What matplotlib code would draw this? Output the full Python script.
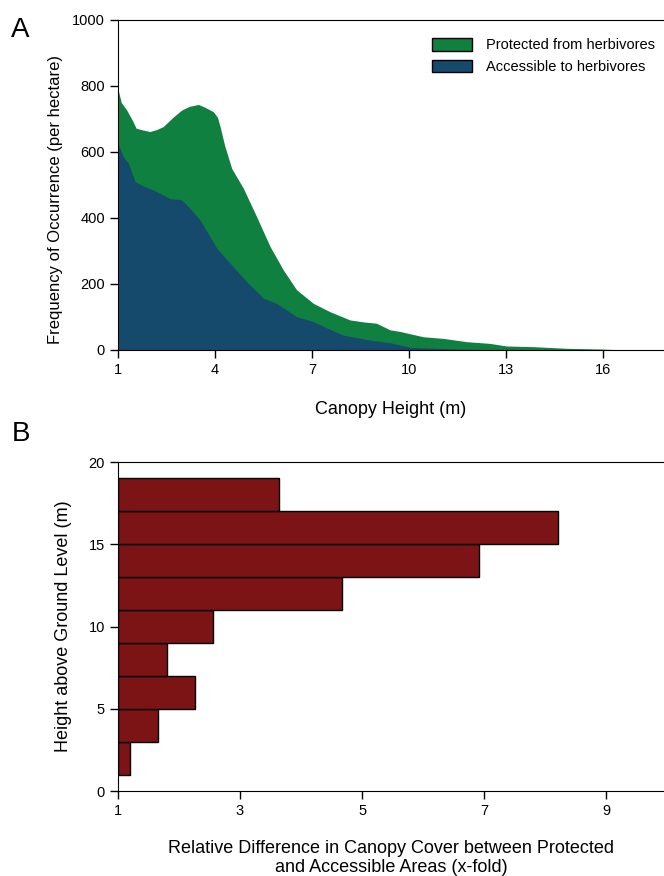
import matplotlib.pyplot as plt
from matplotlib.patches import Patch

# panel A: canopy height vs frequency of occurrence (per hectare)
prot_x = [1.0, 1.1, 1.27, 1.45, 1.56, 1.75, 1.99, 2.2, 2.4, 2.7, 2.97, 3.2, 3.49, 3.7,
          3.95, 4.08, 4.16, 4.3, 4.52, 4.88, 5.29, 5.71, 6.12, 6.53, 7.05, 7.56, 8.18,
          8.6, 9.0, 9.42, 9.73, 10.45, 11.07, 11.8, 12.5, 13.03, 13.85, 14.9, 15.9,
          16.5, 17.0, 18.0]
prot_y = [790, 750, 727, 695, 672, 667, 662, 668, 677, 705, 727, 738, 744, 735,
          722, 705, 677, 620, 550, 490, 404, 313, 242, 182, 141, 116, 91,
          85, 81, 61, 56, 40, 35, 25, 20, 12, 10, 5, 3,
          1, 0, 0]

acc_x = [1.0, 1.16, 1.32, 1.53, 1.78, 2.09, 2.61, 2.97, 3.23, 3.54, 3.85, 4.06, 4.47,
         4.98, 5.5, 5.91, 6.53, 7.05, 7.5, 7.98, 8.8, 9.42, 10.04, 11.4, 12.5, 18.0]
acc_y = [626, 586, 566, 510, 497, 485, 459, 455, 429, 394, 343, 308, 263,
         207, 157, 141, 101, 86, 65, 45, 30, 22, 8, 3, 1, 0]

# panel B: relative difference (x-fold) per 2 m height class
height_mid = [2, 4, 6, 8, 10, 12, 14, 16, 18]
rel_diff = [1.19, 1.66, 2.27, 1.80, 2.55, 4.68, 6.91, 8.22, 3.64]

green = '#0f8040'
blue = '#164a6d'
red = '#7c1416'

plt.rcParams['font.family'] = 'Liberation Sans'
plt.rcParams['font.size'] = 10.5

fig = plt.figure(figsize=(6.64, 8.76), dpi=100)

##############################
# Panel A
##############################
ax1 = fig.add_axes([0.1777, 0.6005, 0.8223, 0.3767])
ax1.fill_between(prot_x, 0, prot_y, color=green, lw=0)
ax1.fill_between(acc_x, 0, acc_y, color=blue, lw=0)
ax1.set_xlim(1, 17.9)
ax1.set_ylim(0, 1000)
ax1.set_xticks([1, 4, 7, 10, 13, 16])
ax1.set_yticks([0, 200, 400, 600, 800, 1000])
ax1.set_xlabel('Canopy Height (m)', fontsize=13, labelpad=17)
ax1.set_ylabel('Frequency of Occurrence (per hectare)', fontsize=12)
ax1.yaxis.set_label_coords(-0.1, 0.455)
ax1.spines['right'].set_visible(False)
ax1.tick_params(direction='out', length=5.5, width=1, pad=4)
ax1.legend(handles=[Patch(facecolor=green, edgecolor='black', lw=1, label='Protected from herbivores'),
                    Patch(facecolor=blue, edgecolor='black', lw=1, label='Accessible to herbivores')],
           loc='upper left', bbox_to_anchor=(0.64, 0.965), bbox_transform=fig.transFigure,
           frameon=False, fontsize=10.5, handlelength=2.7, handleheight=0.95,
           handletextpad=1.0, labelspacing=0.5, borderpad=0)
fig.text(0.017, 0.966, 'A', fontsize=20, va='center')

##############################
# Panel B
##############################
ax2 = fig.add_axes([0.1777, 0.097, 0.8223, 0.3756])
ax2.barh(height_mid, [v - 1 for v in rel_diff], height=2, left=1,
         color=red, edgecolor='black', lw=1)
ax2.set_xlim(1, 9.95)
ax2.set_ylim(0, 20)
ax2.set_xticks([1, 3, 5, 7, 9])
ax2.set_yticks([0, 5, 10, 15, 20])
ax2.set_xlabel('Relative Difference in Canopy Cover between Protected\nand Accessible Areas (x-fold)',
               fontsize=13, labelpad=16, linespacing=1.1)
ax2.set_ylabel('Height above Ground Level (m)', fontsize=13, labelpad=12)
ax2.spines['right'].set_visible(False)
ax2.tick_params(direction='out', length=5.5, width=1, pad=4)
fig.text(0.017, 0.505, 'B', fontsize=20, va='center')

plt.savefig('out.png', dpi=100)
